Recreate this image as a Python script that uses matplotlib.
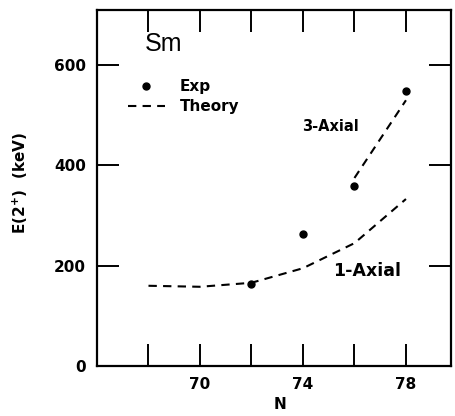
import numpy as np
import matplotlib.pyplot as plt
from matplotlib.lines import Line2D

plt.rcParams['font.family'] = ['DejaVu Sans']

# measured E(2+) energies
n_exp = [72, 74, 76, 78]
e_exp = [164, 264, 358, 548]

# theory curves
n_axial1 = [68, 70, 72, 74, 76, 78]
e_axial1 = [160, 158, 166, 195, 245, 333]
n_axial3 = [76, 78]
e_axial3 = [375, 530]

x_ticks = [68, 70, 72, 74, 76, 78]
x_labels = ["", "70", "", "74", "", "78"]
y_ticks = [0, 200, 400, 600]

fig = plt.figure(figsize=(4.56, 4.16), dpi=100)
ax = fig.add_axes([97/456, 50/416, 354/456, 356/416])

dash = (0, (4, 3))
ax.plot(n_axial1, e_axial1, c="k", lw=1.5, ls=dash)
ax.plot(n_axial3, e_axial3, c="k", lw=1.5, ls=dash)
ax.plot(n_exp, e_exp, "o", c="k", ms=5)

ax.set_xlim(66, 79.75)
ax.set_ylim(0, 710)
ax.set_xticks(x_ticks)
ax.set_xticklabels(x_labels)
ax.set_yticks(y_ticks)
ax.tick_params(direction="in", length=16, width=1.4, top=True, right=True,
               labelsize=11, pad=8)
for lab in ax.get_xticklabels() + ax.get_yticklabels():
    lab.set_fontweight("bold")
for s in ax.spines.values():
    s.set_linewidth(1.6)

ax.set_xlabel("N", fontsize=11, fontweight="bold")
ax.xaxis.set_label_coords(0.517, -0.087)
ax.set_ylabel(r"E(2$^{\mathbf{+}}$)  (keV)", fontsize=11, fontweight="bold")
ax.yaxis.set_label_coords(-0.19, 0.514)

ax.text(68.6, 642, "Sm", fontsize=18, family="Liberation Sans", ha="center", va="center")
ax.text(75.06, 478, "3-Axial", fontsize=10.5, fontweight="bold", ha="center", va="center")
ax.text(76.5, 190, "1-Axial", fontsize=12.5, fontweight="bold", ha="center", va="center")

handles = [Line2D([], [], ls="none", marker="o", c="k", ms=5),
           Line2D([], [], c="k", lw=1.5, ls=dash)]
leg = ax.legend(handles, ["Exp", "Theory"], loc="upper left",
                bbox_to_anchor=(0.0876, 0.805), borderaxespad=0, borderpad=0,
                frameon=False, handlelength=2.4, handletextpad=1.0,
                labelspacing=0.3, prop={"size": 11, "weight": "bold"})

fig.savefig("out.png", dpi=100)
